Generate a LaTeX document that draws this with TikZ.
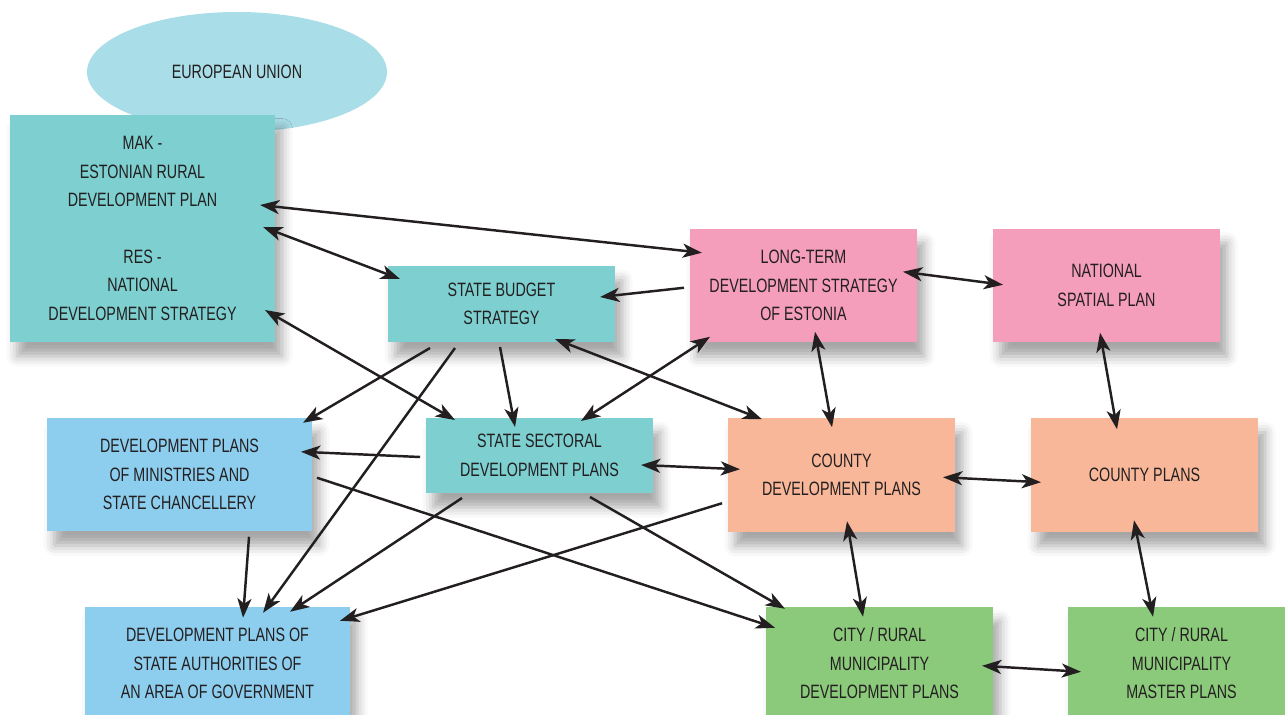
\documentclass[tikz,border=0pt]{standalone}
\usepackage{fontspec}
\setmainfont{Liberation Sans}[FakeStretch=0.74]
\usetikzlibrary{arrows.meta, calc, shapes.geometric, shadows.blur}

\definecolor{txtgray}{HTML}{231F20}
\definecolor{euteal}{HTML}{A9DDE7}
\definecolor{planteal}{HTML}{7DCFD0}
\definecolor{planpink}{HTML}{F49EBB}
\definecolor{planblue}{HTML}{8DCDEE}
\definecolor{plansalmon}{HTML}{F8B799}
\definecolor{plangreen}{HTML}{8BC97B}

\tikzset{
  planbox/.style={rectangle, inner sep=0pt, outer sep=0pt, align=center,
    text=txtgray, font=\fontsize{11}{16.2}\selectfont,
    blur shadow={shadow xshift=4pt, shadow yshift=-8pt, shadow blur radius=6pt,
      shadow opacity=35}},
  wide/.style={minimum width=5.3cm, minimum height=2.27cm},
  norm/.style={minimum width=4.54cm, minimum height=2.27cm},
  flat/.style={minimum width=4.54cm, minimum height=1.52cm},
  link/.style={draw=txtgray, line width=1.4pt,
    -{Stealth[length=11pt, width=8pt, inset=3pt]}},
  dlink/.style={link, {Stealth[length=11pt, width=8pt, inset=3pt]}-{Stealth[length=11pt, width=8pt, inset=3pt]}}
}

\begin{document}
\begin{tikzpicture}[x=0.02cm, y=-0.02cm]
\useasboundingbox (0,0) rectangle (1285,715);

% top row
\node[ellipse, fill=euteal, minimum width=6cm, minimum height=2.4cm, text=txtgray,
  font=\fontsize{11}{16.2}\selectfont] (eu) at (237,72) {EUROPEAN UNION};
\node[planbox, wide, fill=planteal, minimum height=4.54cm] (mak) at (142.5,228.5)
  {MAK -\\ESTONIAN RURAL\\DEVELOPMENT PLAN\\[16.2pt]RES -\\NATIONAL\\DEVELOPMENT STRATEGY};
\node[planbox, flat, fill=planteal] (budget) at (501.5,304) {STATE BUDGET\\STRATEGY};
\node[planbox, norm, fill=planpink] (longterm) at (803.5,285.5)
  {LONG-TERM\\DEVELOPMENT STRATEGY\\OF ESTONIA};
\node[planbox, norm, fill=planpink] (spatial) at (1106.5,285.5) {NATIONAL\\SPATIAL PLAN};

% middle row
\node[planbox, wide, fill=planblue] (ministries) at (179.5,474.5)
  {DEVELOPMENT PLANS\\OF MINISTRIES AND\\STATE CHANCELLERY};
\node[planbox, flat, minimum height=1.5cm, fill=planteal] (sectoral) at (539.5,455.5)
  {STATE SECTORAL\\DEVELOPMENT PLANS};
\node[planbox, norm, fill=plansalmon] (countydev) at (841.5,475)
  {COUNTY\\DEVELOPMENT PLANS};
\node[planbox, norm, fill=plansalmon] (countyplans) at (1144.5,475) {COUNTY PLANS};

% bottom row
\node[planbox, wide, fill=planblue] (authorities) at (217.5,663.5)
  {DEVELOPMENT PLANS OF\\STATE AUTHORITIES OF\\AN AREA OF GOVERNMENT};
\node[planbox, norm, fill=plangreen] (citydev) at (879.5,663.5)
  {CITY / RURAL\\MUNICIPALITY\\DEVELOPMENT PLANS};
\node[planbox, norm, fill=plangreen] (master) at (1181.5,663.5)
  {CITY / RURAL\\MUNICIPALITY\\MASTER PLANS};

% connectors (offsets in px from the top left corner of each box)
\draw[dlink] ($(mak.north west)+(250,90)$) -- ($(longterm.north west)+(12,24)$);
\draw[dlink] ($(mak.north west)+(253,112)$) -- ($(budget.north west)+(12,13)$);
\draw[dlink] ($(mak.north west)+(255,195)$) -- ($(sectoral.north west)+(29,2)$);
\draw[link] ($(longterm.north west)+(-6,59)$) -- ($(budget.north west)+(212,31)$);
\draw[dlink] ($(longterm.north west)+(213,43)$) -- ($(spatial.north west)+(10,56)$);

\draw[link] ($(budget.north west)+(42,82)$) -- ($(ministries.north west)+(256,5)$);
\draw[link] ($(budget.north west)+(67,82)$) -- ($(authorities.north west)+(178,6)$);
\draw[link] ($(budget.north west)+(112,81)$) -- ($(sectoral.north west)+(89,9)$);
\draw[dlink] ($(budget.north west)+(167,73)$) -- ($(countydev.north west)+(34,1)$);
\draw[dlink] ($(longterm.north west)+(20,108)$) -- ($(sectoral.north west)+(155,3)$);
\draw[dlink] ($(longterm.north west)+(125,103)$) -- ($(countydev.north west)+(104,9)$);
\draw[dlink] ($(spatial.north west)+(107,104)$) -- ($(countyplans.north west)+(86,11)$);

\draw[link] ($(sectoral.north west)+(-6,39)$) -- ($(ministries.north west)+(254,34)$);
\draw[dlink] ($(sectoral.north west)+(215,47)$) -- ($(countydev.north west)+(12,51)$);
\draw[link] ($(sectoral.north west)+(36,80)$) -- ($(authorities.north west)+(205,5)$);
\draw[link] ($(sectoral.north west)+(164,79)$) -- ($(citydev.north west)+(19,2)$);
\draw[link] ($(ministries.north west)+(270,60)$) -- ($(citydev.north west)+(9,21)$);
\draw[link] ($(ministries.north west)+(202,119)$) -- ($(authorities.north west)+(158,11)$);
\draw[link] ($(countydev.north west)+(-6,85)$) -- ($(authorities.north west)+(255,14)$);
\draw[dlink] ($(countydev.north west)+(119,103)$) -- ($(citydev.north west)+(97,10)$);
\draw[dlink] ($(countydev.north west)+(215,59)$) -- ($(countyplans.north west)+(10,64)$);
\draw[dlink] ($(countyplans.north west)+(103,102)$) -- ($(master.north west)+(85,10)$);
\draw[dlink] ($(citydev.north west)+(216,59)$) -- ($(master.north west)+(13,65)$);
\end{tikzpicture}
\end{document}
